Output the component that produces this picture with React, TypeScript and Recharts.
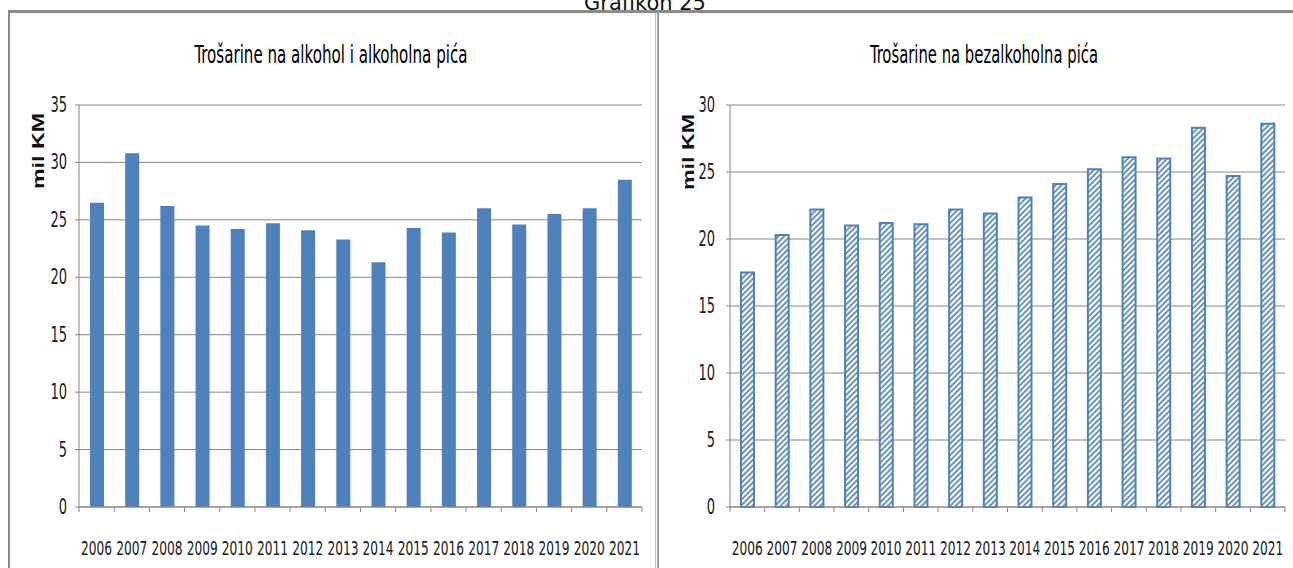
import React from 'react';
import { BarChart, Bar, XAxis, YAxis, CartesianGrid } from 'recharts';

const years = ['2006', '2007', '2008', '2009', '2010', '2011', '2012', '2013', '2014', '2015', '2016', '2017', '2018', '2019', '2020', '2021'];
const alkohol = [26.5, 30.8, 26.2, 24.5, 24.2, 24.7, 24.1, 23.3, 21.3, 24.3, 23.9, 26.0, 24.6, 25.5, 26.0, 28.5];
const bezalkoholna = [17.5, 20.3, 22.2, 21.0, 21.2, 21.1, 22.2, 21.9, 23.1, 24.1, 25.2, 26.1, 26.0, 28.3, 24.7, 28.6];
const leftTicks = [0, 5, 10, 15, 20, 25, 30, 35];
const rightTicks = [0, 5, 10, 15, 20, 25, 30];

const leftData = years.map((y, i) => ({ year: y, value: alkohol[i] }));
const rightData = years.map((y, i) => ({ year: y, value: bezalkoholna[i] }));

const FONT = '"Liberation Sans Narrow", "DejaVu Sans Condensed", "Liberation Sans", sans-serif';
const GRID = '#868686';
const BLUE = '#4f81bd';

// year labels sit between tick marks placed at the category edges
const XTick = (props: any) => {
  const { x, y, payload, index, bw, count } = props;
  return (
    <g>
      <line x1={x - bw / 2} x2={x - bw / 2} y1={y} y2={y + 5} stroke={GRID} />
      {index === count - 1 && <line x1={x + bw / 2} x2={x + bw / 2} y1={y} y2={y + 5} stroke={GRID} />}
      <text x={x} y={y + 41} textAnchor="middle" dominantBaseline="central" fontFamily={FONT} fontSize={20} fill="#1a1a1a"
        textLength={31} lengthAdjust="spacingAndGlyphs">
        {payload.value}
      </text>
    </g>
  );
};

const YTick = (props: any) => {
  const { x, y, payload } = props;
  const s = String(payload.value);
  return (
    <text x={x} y={y} textAnchor="end" dominantBaseline="central" fontFamily={FONT} fontSize={21} fill="#1a1a1a"
      textLength={s.length * 8.3} lengthAdjust="spacingAndGlyphs">
      {s}
    </text>
  );
};

export default function App() {
  return (
    <div style={{ position: 'fixed', left: 0, top: 0, width: 1293, height: 568, background: '#fff', overflow: 'hidden' }}>
      {/* panel frames */}
      <div style={{ position: 'absolute', left: 8, top: 10, width: 1285, height: 3, background: '#8c8c8c' }} />
      <div style={{ position: 'absolute', left: 8, top: 10, width: 2, height: 558, background: '#8c8c8c' }} />
      <div style={{ position: 'absolute', left: 655, top: 13, width: 1, height: 555, background: '#c4c4c4' }} />
      <div style={{ position: 'absolute', left: 657, top: 10, width: 2, height: 558, background: '#9a9a9a' }} />

      <div style={{ position: 'absolute', left: 0, top: 0 }}>
        <BarChart width={655} height={568} data={leftData} margin={{ top: 105, right: 13, bottom: 31, left: 0 }} barSize={14}>
          <CartesianGrid horizontal vertical={false} stroke={GRID} />
          <XAxis dataKey="year" height={30} interval={0} tickSize={0} tickMargin={0} axisLine={{ stroke: GRID }} tickLine={false}
            tick={<XTick bw={(642 - 79) / 16} count={16} />} />
          <YAxis width={79} domain={[0, 35]} ticks={leftTicks} interval={0} tickSize={4} tickMargin={8}
            axisLine={{ stroke: GRID }} tickLine={{ stroke: GRID }} tick={<YTick />} />
          <Bar dataKey="value" fill={BLUE} isAnimationActive={false} />
        </BarChart>
      </div>

      <div style={{ position: 'absolute', left: 657, top: 0 }}>
        <BarChart width={636} height={568} data={rightData} margin={{ top: 105, right: 8, bottom: 31, left: 0 }} barSize={13}>
          <CartesianGrid horizontal vertical={false} stroke={GRID} />
          <XAxis dataKey="year" height={30} interval={0} tickSize={0} tickMargin={0} axisLine={{ stroke: GRID }} tickLine={false}
            tick={<XTick bw={(1285 - 730) / 16} count={16} />} />
          <YAxis width={73} domain={[0, 30]} ticks={rightTicks} interval={0} tickSize={4} tickMargin={11}
            axisLine={{ stroke: GRID }} tickLine={{ stroke: GRID }} tick={<YTick />} />
          <Bar dataKey="value" fill="url(#hatch)" stroke={BLUE} strokeWidth={2} isAnimationActive={false} />
        </BarChart>
      </div>

      {/* titles, axis names and the hatch pattern */}
      <svg width={1293} height={568} style={{ position: 'absolute', left: 0, top: 0, pointerEvents: 'none' }}>
        <defs>
          <pattern id="hatch" patternUnits="userSpaceOnUse" width={4} height={4} patternTransform="rotate(45)">
            <rect width={4} height={4} fill="#fff" />
            <line x1={1} y1={0} x2={1} y2={4} stroke={BLUE} strokeWidth={1.7} />
          </pattern>
        </defs>
        <text x={645} y={10} textAnchor="middle" fontFamily='"DejaVu Sans", sans-serif' fontSize={21} fill="#111">Grafikon 25</text>
        <text x={331} y={55} textAnchor="middle" dominantBaseline="central" fontFamily={FONT} fontSize={24} fill="#000"
          textLength={273} lengthAdjust="spacingAndGlyphs">Trošarine na alkohol i alkoholna pića</text>
        <text x={984} y={55} textAnchor="middle" dominantBaseline="central" fontFamily={FONT} fontSize={24} fill="#000"
          textLength={228} lengthAdjust="spacingAndGlyphs">Trošarine na bezalkoholna pića</text>
        <text transform="translate(38,151) rotate(-90)" textAnchor="middle" dominantBaseline="central"
          fontFamily='"Liberation Sans", Arial, sans-serif' fontWeight="bold" fontSize={16} fill="#111"
          textLength={76} lengthAdjust="spacingAndGlyphs">mil KM</text>
        <text transform="translate(688,152) rotate(-90)" textAnchor="middle" dominantBaseline="central"
          fontFamily='"Liberation Sans", Arial, sans-serif' fontWeight="bold" fontSize={16} fill="#111"
          textLength={76} lengthAdjust="spacingAndGlyphs">mil KM</text>
      </svg>
    </div>
  );
}
